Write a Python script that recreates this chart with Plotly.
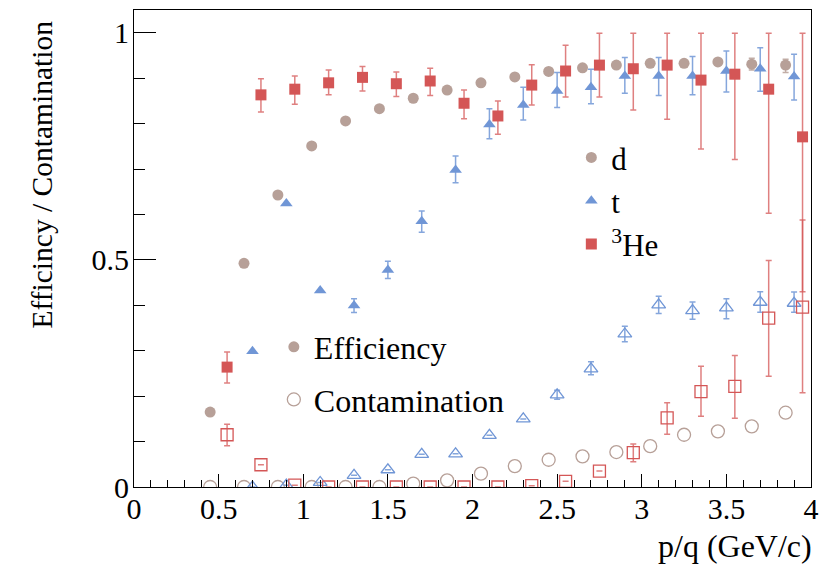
import plotly.graph_objects as go

# ---------------- data ----------------
d_p = [0.45, 0.65, 0.85, 1.05, 1.25, 1.45, 1.65, 1.85, 2.05, 2.25, 2.45, 2.65, 2.85, 3.05, 3.25, 3.45, 3.65, 3.85]
d_eff = [0.165, 0.4925, 0.643, 0.751, 0.806, 0.833, 0.856, 0.874, 0.890, 0.903, 0.915, 0.923, 0.929, 0.933, 0.933, 0.936, 0.931, 0.929]
d_eff_up = [0, 0, 0, 0, 0, 0, 0, 0, 0, 0, 0, 0, 0, 0, 0, 0, 0.013, 0.013]
d_eff_dn = [0, 0, 0, 0, 0, 0, 0, 0, 0, 0, 0, 0, 0, 0, 0, 0, 0.013, 0.016]
d_con = [0.0, 0.0, 0.0, 0.0, 0.0, 0.0, 0.0074, 0.0147, 0.0294, 0.046, 0.060, 0.0675, 0.077, 0.090, 0.115, 0.1225, 0.1335, 0.1636]

t_p = [0.7, 0.9, 1.1, 1.3, 1.5, 1.7, 1.9, 2.1, 2.3, 2.5, 2.7, 2.9, 3.1, 3.3, 3.5, 3.7, 3.9]
t_eff = [0.299, 0.624, 0.4325, 0.3995, 0.478, 0.585, 0.698, 0.798, 0.841, 0.872, 0.880, 0.905, 0.905, 0.905, 0.916, 0.921, 0.904]
t_eff_up = [0, 0, 0, 0.015, 0.019, 0.023, 0.031, 0.035, 0.039, 0.0405, 0.040, 0.0405, 0.0405, 0.043, 0.044, 0.0465, 0.049]
t_eff_dn = [0, 0, 0, 0.015, 0.019, 0.024, 0.028, 0.031, 0.033, 0.0365, 0.036, 0.038, 0.043, 0.041, 0.046, 0.0495, 0.052]
t_con = [0.0, 0.004, 0.010, 0.0257, 0.038, 0.072, 0.073, 0.1137, 0.150, 0.203, 0.260, 0.337, 0.401, 0.3885, 0.3945, 0.4068, 0.4046]
t_con_up = [0, 0, 0, 0, 0, 0, 0, 0, 0, 0.010, 0.016, 0.017, 0.019, 0.019, 0.020, 0.023, 0.025]
t_con_dn = [0, 0, 0, 0, 0, 0, 0, 0, 0, 0.010, 0.013, 0.017, 0.019, 0.019, 0.024, 0.022, 0.020]

he_p = [0.55, 0.75, 0.95, 1.15, 1.35, 1.55, 1.75, 1.95, 2.15, 2.35, 2.55, 2.75, 2.95, 3.15, 3.35, 3.55, 3.75, 3.95]
he_eff = [0.264, 0.8635, 0.876, 0.890, 0.902, 0.888, 0.894, 0.845, 0.817, 0.885, 0.916, 0.929, 0.921, 0.929, 0.896, 0.909, 0.876, 0.771]
he_eff_up = [0.033, 0.0355, 0.029, 0.028, 0.024, 0.026, 0.028, 0.029, 0.033, 0.045, 0.057, 0.070, 0.078, 0.070, 0.103, 0.090, 0.123, 0.228]
he_eff_dn = [0.035, 0.0375, 0.033, 0.026, 0.030, 0.028, 0.032, 0.034, 0.040, 0.044, 0.057, 0.070, 0.091, 0.119, 0.152, 0.188, 0.273, 0.341]
he_con = [0.115, 0.049, 0.004, 0.0, 0.0, 0.0, 0.0, 0.0, 0.0, 0.003, 0.0125, 0.035, 0.0757, 0.152, 0.210, 0.2214, 0.372, 0.396]
he_con_up = [0.023, 0, 0, 0, 0, 0, 0, 0, 0, 0, 0, 0, 0.019, 0.0335, 0.056, 0.068, 0.1265, 0.192]
he_con_dn = [0.024, 0, 0, 0, 0, 0, 0, 0, 0, 0, 0, 0, 0.020, 0.036, 0.054, 0.070, 0.128, 0.1885]

x_ticks = [0, 0.5, 1, 1.5, 2, 2.5, 3, 3.5, 4]
x_tick_text = ["0", "0.5", "1", "1.5", "2", "2.5", "3", "3.5", "4"]
y_ticks = [0, 0.5, 1]
y_tick_text = ["0", "0.5", "1"]

x_title = "p/q (GeV/c)"
y_title = "Efficincy / Contamination"
species_names = ["d", "t", "<sup>3</sup>He"]
type_names = ["Efficiency", "Contamination"]

# ---------------- style ----------------
C_D = "#b7a098"
C_T = "#7096d6"
C_HE = "#d45656"
C_D_ERR = "rgba(183,160,152,0.85)"
C_T_ERR = "rgba(112,150,214,0.85)"
C_HE_ERR = "rgba(212,86,86,0.75)"
FONT = "Liberation Serif"

L, R, T, B = 133.5, 818.5, 9.0, 486.7
W, H = 828, 567


def px_x(p):
    return (p - L) / (R - L)


def px_y(p):
    return (B - p) / (B - T)


def err(up, dn, col):
    return dict(type="data", symmetric=False, array=up, arrayminus=dn,
                color=col, thickness=1.5, width=3)


fig = go.Figure()

# contamination (open markers)
fig.add_trace(go.Scatter(x=d_p, y=d_con, mode="markers", showlegend=False,
                         marker=dict(symbol="circle-open", size=13, color=C_D, line=dict(width=1.3, color=C_D))))
fig.add_trace(go.Scatter(x=t_p, y=t_con, mode="markers", showlegend=False,
                         error_y=err(t_con_up, t_con_dn, C_T_ERR),
                         marker=dict(symbol="triangle-up-open", size=12, color=C_T, line=dict(width=1.3, color=C_T))))
fig.add_trace(go.Scatter(x=he_p, y=he_con, mode="markers", showlegend=False,
                         error_y=err(he_con_up, he_con_dn, C_HE_ERR),
                         marker=dict(symbol="square-open", size=12, color=C_HE, line=dict(width=1.3, color=C_HE))))

# efficiency (filled markers)
fig.add_trace(go.Scatter(x=d_p, y=d_eff, mode="markers", name=species_names[0],
                         legend="legend",
                         error_y=err(d_eff_up, d_eff_dn, C_D_ERR),
                         marker=dict(symbol="circle", size=11, color=C_D)))
fig.add_trace(go.Scatter(x=t_p, y=t_eff, mode="markers", name=species_names[1],
                         legend="legend",
                         error_y=err(t_eff_up, t_eff_dn, C_T_ERR),
                         marker=dict(symbol="triangle-up", size=11, color=C_T)))
fig.add_trace(go.Scatter(x=he_p, y=he_eff, mode="markers", name=species_names[2],
                         legend="legend",
                         error_y=err(he_eff_up, he_eff_dn, C_HE_ERR),
                         marker=dict(symbol="square", size=11, color=C_HE)))

# second legend: Efficiency / Contamination
fig.add_trace(go.Scatter(x=[None], y=[None], mode="markers", name=type_names[0],
                         legend="legend2", legendgroup="eff",
                         marker=dict(symbol="circle", size=11, color=C_D)))
fig.add_trace(go.Scatter(x=[None], y=[None], mode="markers", name=type_names[1],
                         legend="legend2", legendgroup="con",
                         marker=dict(symbol="circle-open", size=13, color=C_D, line=dict(width=1.3, color=C_D))))

axis_common = dict(showline=True, linecolor="black", linewidth=1, mirror=True,
                   showgrid=False, zeroline=False, ticks="inside", tickcolor="black",
                   tickwidth=1, tickfont=dict(family=FONT, size=30, color="black"))

fig.update_layout(
    width=W, height=H,
    margin=dict(l=L, r=W - R, t=T, b=H - B),
    paper_bgcolor="white", plot_bgcolor="white",
    font=dict(family=FONT, color="black"),
    xaxis=dict(range=[0, 4], tickvals=x_ticks, ticktext=x_tick_text, ticklen=13,
               ticklabelstandoff=-5,
               minor=dict(dtick=0.1, ticklen=7, ticks="inside", tickcolor="black", showgrid=False),
               **axis_common),
    yaxis=dict(range=[0, (B - T) / 454.8], tickvals=y_ticks, ticktext=y_tick_text, ticklen=22,
               ticklabelstandoff=-2,
               minor=dict(dtick=0.1, ticklen=11, ticks="inside", tickcolor="black", showgrid=False),
               **axis_common),
    legend=dict(x=px_x(576), y=px_y(130), xanchor="left", yanchor="top",
                bgcolor="rgba(0,0,0,0)", font=dict(family=FONT, size=31, color="black"),
                tracegroupgap=0, itemsizing="trace"),
    legend2=dict(x=px_x(275), y=px_y(319), xanchor="left", yanchor="top",
                 bgcolor="rgba(0,0,0,0)", font=dict(family=FONT, size=32, color="black"),
                 tracegroupgap=8, itemsizing="trace"),
    annotations=[
        dict(text=x_title, xref="paper", yref="paper", x=px_x(822), y=px_y(546),
             xanchor="right", yanchor="middle", showarrow=False,
             font=dict(family=FONT, size=32, color="black")),
        dict(text=y_title, xref="paper", yref="paper", x=px_x(40), y=px_y(18),
             xanchor="center", yanchor="top", textangle=-90, showarrow=False,
             font=dict(family=FONT, size=29.5, color="black")),
    ],
)

fig.write_html("out.html")
